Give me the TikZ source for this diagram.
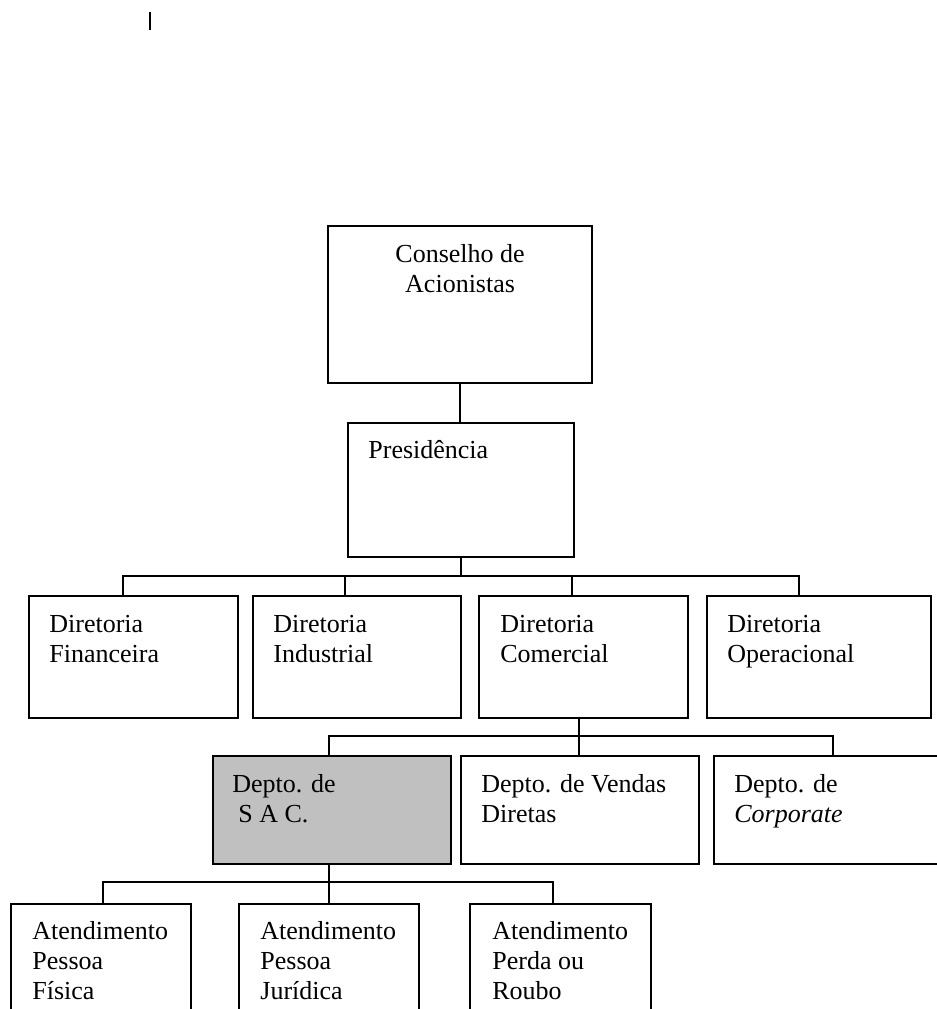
\documentclass[tikz,border=0pt]{standalone}
\usepackage{fontspec}
\setmainfont{Liberation Serif}
\usetikzlibrary{positioning}

\tikzset{
  caixa/.style={draw, line width=1.1pt, rectangle, anchor=north west, inner sep=0pt},
  texto/.style={anchor=base west, inner sep=0pt, font=\fontsize{13}{15}\selectfont},
  linha/.style={line width=1.1pt},
}
\newcommand{\txtcaixa}[1]{\parbox[t]{112pt}{#1}}

\begin{document}
\begin{tikzpicture}[x=0.5pt, y=-0.5pt]
% organograma, coordenadas em pixels
\useasboundingbox (0,0) rectangle (937,1009);
\clip (0,0) rectangle (937,1009);

\draw [linha](150,12) -- (150,30);

% caixas
\node [caixa, minimum width=132pt, minimum height=78.5pt] (cons) at (327,225) {};
\node [caixa, minimum width=113pt, minimum height=67pt] (pres) at (347,422) {};

\node [caixa, minimum width=104.5pt, minimum height=61pt] (fin) at (28,595) {};
\node [caixa, minimum width=104pt, minimum height=61pt] (ind) at (252,595) {};
\node [caixa, minimum width=104.5pt, minimum height=61pt] (com) at (478,595) {};
\node [caixa, minimum width=112pt, minimum height=61pt] (ope) at (706,595) {};

\node [caixa, fill={rgb,255:red,192;green,192;blue,192}, minimum width=119pt, minimum height=54pt] (sac) at (212,755) {};
\node [caixa, minimum width=119pt, minimum height=54pt] (ven) at (460,755) {};
\node [caixa, minimum width=119pt, minimum height=54pt] (cor) at (713,755) {};

\node [caixa, minimum width=90pt, minimum height=65pt] (af) at (10,903) {};
\node [caixa, minimum width=90pt, minimum height=65pt] (aj) at (238,903) {};
\node [caixa, minimum width=90.5pt, minimum height=65pt] (ar) at (469,903) {};

% textos
\node [texto, anchor=base] (cons-t) at ([yshift=-18.5pt]cons.north) {\parbox[t]{120pt}{\centering Conselho de\\Acionistas}};
\node [texto] (pres-t) at ([xshift=10.5pt,yshift=-18pt]pres.north west) {\txtcaixa{Presidência}};

\node [texto] (fin-t) at ([xshift=10.5pt,yshift=-18.5pt]fin.north west) {\txtcaixa{Diretoria\\Financeira}};
\node [texto] (ind-t) at ([xshift=10.5pt,yshift=-18.5pt]ind.north west) {\txtcaixa{Diretoria\\Industrial}};
\node [texto] (com-t) at ([xshift=11pt,yshift=-18.5pt]com.north west) {\txtcaixa{Diretoria\\Comercial}};
\node [texto] (ope-t) at ([xshift=10.5pt,yshift=-18.5pt]ope.north west) {\txtcaixa{Diretoria\\Operacional}};

\node [texto] (sac-t) at ([xshift=10pt,yshift=-18.5pt]sac.north west) {\txtcaixa{Depto. de\\\hspace*{3pt}S A C.}};
\node [texto] (ven-t) at ([xshift=10.5pt,yshift=-18.5pt]ven.north west) {\txtcaixa{Depto. de Vendas\\Diretas}};
\node [texto] (cor-t) at ([xshift=10.5pt,yshift=-18.5pt]cor.north west) {\txtcaixa{Depto. de\\\textit{Corporate}}};

\node [texto] (af-t) at ([xshift=11pt,yshift=-18pt]af.north west) {\txtcaixa{Atendimento\\Pessoa\\Física}};
\node [texto] (aj-t) at ([xshift=11pt,yshift=-18pt]aj.north west) {\txtcaixa{Atendimento\\Pessoa\\Jurídica}};
\node [texto] (ar-t) at ([xshift=11.5pt,yshift=-18pt]ar.north west) {\txtcaixa{Atendimento\\Perda ou\\Roubo}};

% ligacoes
\draw [linha](cons.south) -- (cons.south |- pres.north);
\coordinate (bus1) at ([yshift=9.5pt]fin.north);
\draw [linha](pres.south) -- (pres.south |- bus1);
\draw [linha]([xshift=-5.5pt]fin.north) -- ++(0,9.5pt) -| ([xshift=-10pt]ope.north);
\draw [linha]([xshift=-6pt]ind.north) -- ++(0,9.5pt);
\draw [linha]([xshift=-5.75pt]com.north) -- ++(0,9.5pt);

\draw [linha]([xshift=-2.25pt]com.south) -- ([xshift=-2.25pt]com.south |- ven.north);
\draw [linha]([xshift=-1.5pt]sac.north) -- ++(0,9.5pt) -| (cor.north);

\draw [linha]([xshift=-1.5pt]sac.south) -- (aj.north);
\draw [linha]([xshift=1pt]af.north) -- ++(0,10.5pt) -| ([xshift=-3.75pt]ar.north);

\end{tikzpicture}
\end{document}
